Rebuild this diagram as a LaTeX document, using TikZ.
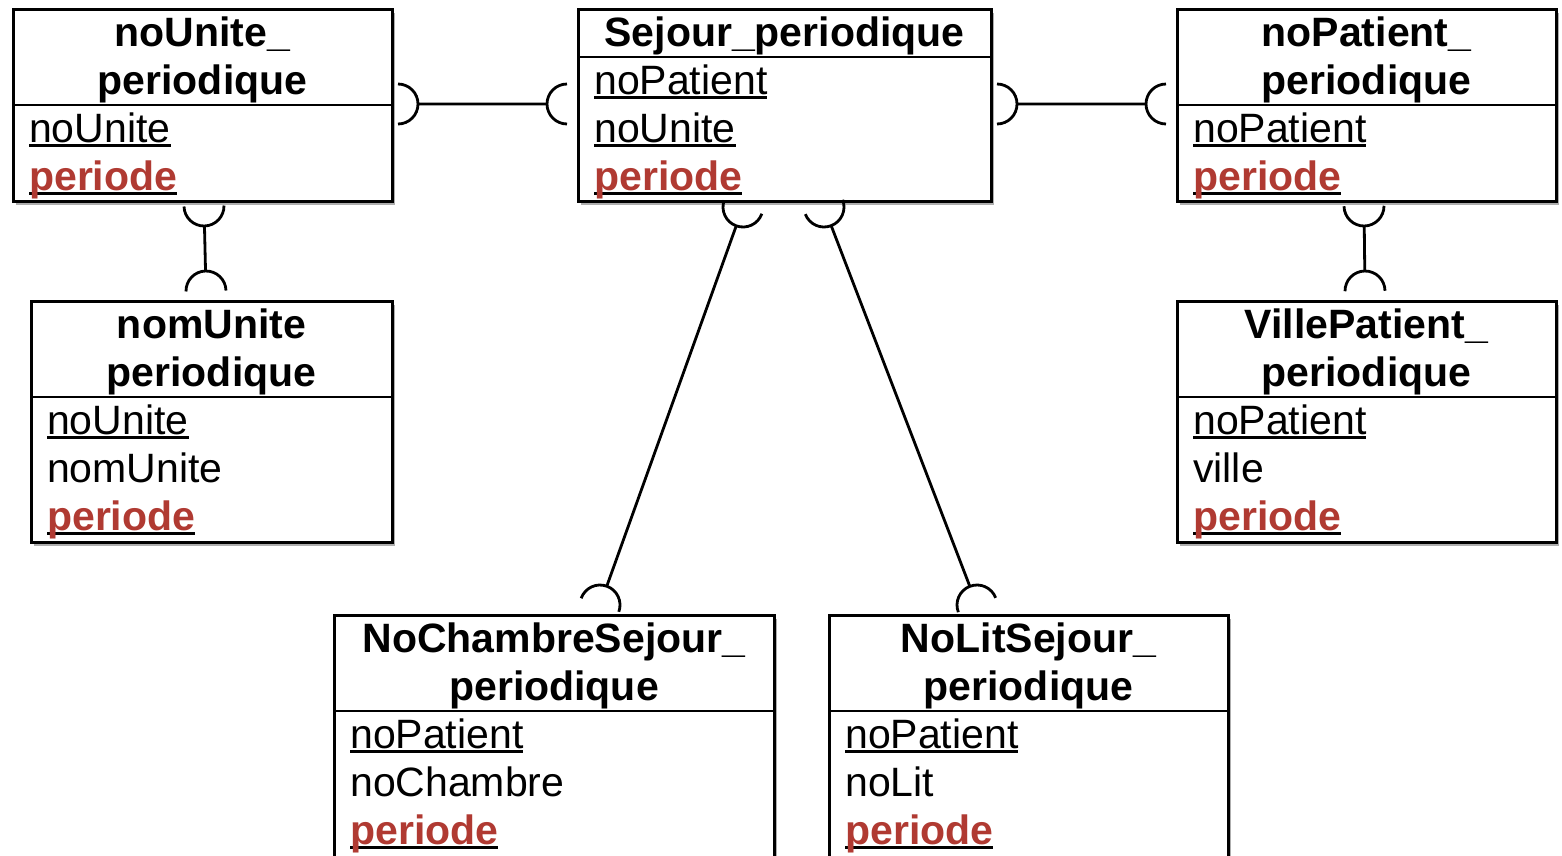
\documentclass[tikz,border=0pt]{standalone}
\usepackage{fontspec}
\setmainfont{Liberation Sans}
\usetikzlibrary{calc,shadows}
\definecolor{prd}{RGB}{176,58,50}
\newcommand\ulin[1]{\setbox0\hbox{#1}\rlap{\rule[-4.5pt]{\wd0}{2.4pt}}\box0}
\newcommand\pkey{\ulin{\textcolor{prd}{\textbf{periode}}}}
\newcommand\erlink[2]{%
  \draw[lnk] let \p1=(#1), \p2=(#2), \n1={atan2(\y2-\y1,\x2-\x1)} in
    ($(\p1)+(\n1-90:20pt)$) arc[start angle=\n1-90, delta angle=180, radius=20pt]
    ($(\p2)+(\n1+90:20pt)$) arc[start angle=\n1+90, delta angle=180, radius=20pt]
    ($(\p1)!20pt!(\p2)$) -- ($(\p2)!20pt!(\p1)$);%
}
\begin{document}
\begin{tikzpicture}[x=1pt,y=1pt,
  ent/.style={draw, line width=3pt, fill=white, outer sep=0pt, inner sep=0pt, anchor=north west,
    drop shadow={opacity=0.45, fill=black!70, shadow xshift=3pt, shadow yshift=-3.5pt}},
  ttl/.style={anchor=base, inner sep=0pt, font=\fontsize{41pt}{48pt}\selectfont\bfseries},
  att/.style={anchor=base west, inner sep=0pt, font=\fontsize{41pt}{48pt}\selectfont},
  div/.style={line width=2.5pt},
  lnk/.style={line width=2.8pt}]
\fill[white] (0,0) rectangle (1562,-855);
\useasboundingbox (0,0) rectangle (1562,-855);

% boxes
\node[ent, minimum width=379pt, minimum height=192pt] (b1) at (13,-9) {};
\node[ent, minimum width=413pt, minimum height=192pt] (b2) at (578,-9) {};
\node[ent, minimum width=379pt, minimum height=192pt] (b3) at (1177,-9) {};
\node[ent, minimum width=361pt, minimum height=241pt] (b4) at (31,-301) {};
\node[ent, minimum width=379pt, minimum height=241pt] (b5) at (1177,-301) {};
\node[ent, minimum width=440pt, minimum height=250pt] (b6) at (334,-615) {};
\node[ent, minimum width=399pt, minimum height=250pt] (b7) at (829,-615) {};

% dividers
\draw[div] ($(b1.north west)+(0,-96)$) -- ($(b1.north east)+(0,-96)$);
\draw[div] ($(b2.north west)+(0,-48)$) -- ($(b2.north east)+(0,-48)$);
\draw[div] ($(b3.north west)+(0,-96)$) -- ($(b3.north east)+(0,-96)$);
\draw[div] ($(b4.north west)+(0,-96)$) -- ($(b4.north east)+(0,-96)$);
\draw[div] ($(b5.north west)+(0,-96)$) -- ($(b5.north east)+(0,-96)$);
\draw[div] ($(b6.north west)+(0,-96)$) -- ($(b6.north east)+(0,-96)$);
\draw[div] ($(b7.north west)+(0,-96)$) -- ($(b7.north east)+(0,-96)$);

% titles
\node[ttl] (b1t1) at ($(b1.north)+(0,-37)$) {noUnite\_};
\node[ttl] (b1t2) at ($(b1.north)+(0,-85)$) {periodique};
\node[ttl] (b2t1) at ($(b2.north)+(0,-37)$) {Sejour\_periodique};
\node[ttl] (b3t1) at ($(b3.north)+(0,-37)$) {noPatient\_};
\node[ttl] (b3t2) at ($(b3.north)+(0,-85)$) {periodique};
\node[ttl] (b4t1) at ($(b4.north)+(0,-37)$) {nomUnite};
\node[ttl] (b4t2) at ($(b4.north)+(0,-85)$) {periodique};
\node[ttl] (b5t1) at ($(b5.north)+(0,-37)$) {VillePatient\_};
\node[ttl] (b5t2) at ($(b5.north)+(0,-85)$) {periodique};
\node[ttl] (b6t1) at ($(b6.north)+(0,-37)$) {NoChambreSejour\_};
\node[ttl] (b6t2) at ($(b6.north)+(0,-85)$) {periodique};
\node[ttl] (b7t1) at ($(b7.north)+(0,-37)$) {NoLitSejour\_};
\node[ttl] (b7t2) at ($(b7.north)+(0,-85)$) {periodique};

% attributes
\node[att] (b1a1) at ($(b1.north west)+(16,-133)$) {\ulin{noUnite}};
\node[att] (b1a2) at ($(b1.north west)+(16,-181)$) {\pkey};
\node[att] (b2a1) at ($(b2.north west)+(16,-85)$) {\ulin{noPatient}};
\node[att] (b2a2) at ($(b2.north west)+(16,-133)$) {\ulin{noUnite}};
\node[att] (b2a3) at ($(b2.north west)+(16,-181)$) {\pkey};
\node[att] (b3a1) at ($(b3.north west)+(16,-133)$) {\ulin{noPatient}};
\node[att] (b3a2) at ($(b3.north west)+(16,-181)$) {\pkey};
\node[att] (b4a1) at ($(b4.north west)+(16,-133)$) {\ulin{noUnite}};
\node[att] (b4a2) at ($(b4.north west)+(16,-181)$) {nomUnite};
\node[att] (b4a3) at ($(b4.north west)+(16,-229)$) {\pkey};
\node[att] (b5a1) at ($(b5.north west)+(16,-133)$) {\ulin{noPatient}};
\node[att] (b5a2) at ($(b5.north west)+(16,-181)$) {ville};
\node[att] (b5a3) at ($(b5.north west)+(16,-229)$) {\pkey};
\node[att] (b6a1) at ($(b6.north west)+(16,-133)$) {\ulin{noPatient}};
\node[att] (b6a2) at ($(b6.north west)+(16,-181)$) {noChambre};
\node[att] (b6a3) at ($(b6.north west)+(16,-229)$) {\pkey};
\node[att] (b7a1) at ($(b7.north west)+(16,-133)$) {\ulin{noPatient}};
\node[att] (b7a2) at ($(b7.north west)+(16,-181)$) {noLit};
\node[att] (b7a3) at ($(b7.north west)+(16,-229)$) {\pkey};

% connector end points
\coordinate (c1a) at ($(b1.east)+(6,1)$);
\coordinate (c1b) at ($(b2.west)+(-11,1)$);
\coordinate (c2a) at ($(b2.east)+(6,1)$);
\coordinate (c2b) at ($(b3.west)+(-11,1)$);
\coordinate (c3a) at ($(b1.south)+(1.5,-5)$);
\coordinate (c3b) at ($(b4.north)+(-5.5,10)$);
\coordinate (c4a) at ($(b3.south)+(-2.5,-5)$);
\coordinate (c4b) at ($(b5.north)+(-1.5,10)$);
\coordinate (c5a) at ($(b2.south)+(-41.5,-6)$);
\coordinate (c5b) at ($(b6.north)+(46,10)$);
\coordinate (c6a) at ($(b2.south)+(39.5,-6)$);
\coordinate (c6b) at ($(b7.north)+(-51.5,10)$);

\erlink{c1a}{c1b}
\erlink{c2a}{c2b}
\erlink{c3a}{c3b}
\erlink{c4a}{c4b}
\erlink{c5a}{c5b}
\erlink{c6a}{c6b}
\end{tikzpicture}
\end{document}
